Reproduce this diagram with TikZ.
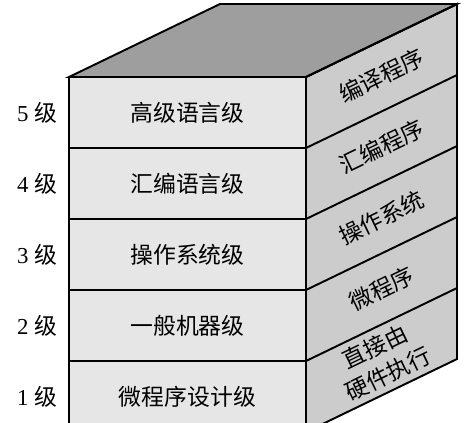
\documentclass[tikz,border=0pt]{standalone}
\usepackage{fontspec}
\setmainfont{Liberation Serif}
\newfontfamily\cjk{Noto Sans CJK SC}
\usetikzlibrary{calc}
\definecolor{frontgray}{HTML}{E6E6E6}
\definecolor{sidegray}{HTML}{CCCCCC}
\definecolor{topgray}{HTML}{9E9E9E}

\begin{document}
\begin{tikzpicture}[x=0.02cm, y=-0.02cm, line width=1.1pt,
  levelname/.style={font=\fontsize{13}{15}\selectfont},
  rowtext/.style={font=\fontsize{13}{15}\selectfont\cjk},
  sidetext/.style={font=\fontsize{13}{17}\selectfont\cjk, rotate=25.8,
    align=center, inner sep=0pt}]

  % frame of the picture
  \path[use as bounding box, clip] (0,0) rectangle (469,422);

  \def\depthx{151}
  \def\depthy{73}
  \def\rowh{71}

  % corners of the front face
  \coordinate (FTL) at (69,77);
  \coordinate (FTR) at (306,77);
  \coordinate (FBL) at (69,432);
  \coordinate (FBR) at (306,432);

  % back corners
  \coordinate (BTL) at ($(FTL)+(\depthx,-\depthy)$);
  \coordinate (BTR) at ($(FTR)+(\depthx,-\depthy)$);
  \coordinate (BBR) at ($(FBR)+(\depthx,-\depthy)$);

  % faces
  \fill[frontgray] (FTL) rectangle (FBR);
  \filldraw[fill=sidegray] (FTR) -- (BTR) -- (BBR) -- (FBR) -- cycle;
  \filldraw[fill=topgray] (FTL) -- (BTL) -- (BTR) -- (FTR) -- cycle;
  \draw (FTL) rectangle (FBR);

  % the five levels
  \foreach \n/\lvl/\side in {5/高级语言级/编译程序,
                            4/汇编语言级/汇编程序,
                            3/操作系统级/操作系统,
                            2/一般机器级/微程序,
                            1/微程序设计级/{直接由\\硬件执行}} {
    \pgfmathsetmacro{\ytop}{77+(5-\n)*\rowh}
    \pgfmathsetmacro{\ymid}{\ytop+0.5*\rowh}
    \coordinate (R\n) at (69,\ytop);
    \draw (R\n) -- ++(237,0) -- ++(\depthx,-\depthy);
    \node[levelname] (L\n) at (37,\ymid) {\n\ {\cjk 级}};
    \node[rowtext] (F\n) at (187.5,\ymid) {\lvl};
    \node[sidetext] (S\n) at (381.5,\ymid-36.5) {\side};
  }

\end{tikzpicture}
\end{document}
